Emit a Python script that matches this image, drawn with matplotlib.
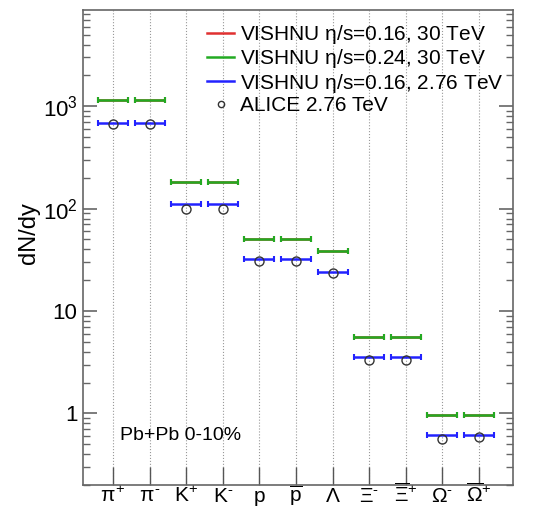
import numpy as np
import matplotlib
matplotlib.use('Agg')
import matplotlib.pyplot as plt
from matplotlib.ticker import FixedLocator, FixedFormatter, LogLocator, NullFormatter

plt.rcParams['font.family'] = ['Liberation Sans', 'DejaVu Sans']
plt.rcParams['mathtext.fontset'] = 'custom'
plt.rcParams['mathtext.rm'] = 'Liberation Sans'
plt.rcParams['mathtext.it'] = 'Liberation Sans'
plt.rcParams['mathtext.bf'] = 'Liberation Sans:bold'

particles = [r'$\pi^{+}$', r'$\pi^{\text{-}}$', r'$\mathrm{K}^{+}$', r'$\mathrm{K}^{\text{-}}$', r'$\mathrm{p}$',
             r'$\overline{\mathrm{p}}$', r'$\Lambda$', r'$\Xi^{\text{-}}$', r'$\overline{\Xi}^{+}$',
             r'$\Omega^{\text{-}}$', r'$\overline{\Omega}^{+}$']

vishnu_016_30 = [1145, 1145, 182, 182, 50.6, 50.6, 38.6, 5.6, 5.6, 0.975, 0.975]
vishnu_024_30 = [1140, 1140, 181, 181, 50.4, 50.4, 38.4, 5.58, 5.58, 0.955, 0.955]
vishnu_016_276 = [678, 678, 110, 110, 32.3, 32.3, 23.9, 3.55, 3.55, 0.62, 0.62]
alice_276 = [670, 670, 99, 99, 30.6, 30.6, 23.6, 3.29, 3.29, 0.567, 0.59]

x = np.arange(1, len(particles) + 1)

fig = plt.figure(figsize=(5.43, 5.09), dpi=100)
ax = fig.add_axes([0.1529, 0.0472, 0.7919, 0.9332])

for xi in x:
    ax.axvline(xi, color='#999999', ls=':', lw=0.8, zorder=0)

series = [(vishnu_016_30, '#e03030', r'VISHNU $\eta$/s=0.16, 30 TeV'),
          (vishnu_024_30, '#22aa22', r'VISHNU $\eta$/s=0.24, 30 TeV'),
          (vishnu_016_276, '#2222ff', r'VISHNU $\eta$/s=0.16, 2.76 TeV')]
handles = []
for vals, col, lab in series:
    ax.errorbar(x, vals, xerr=0.41, fmt='none', ecolor=col, elinewidth=1.8,
                capsize=2.5, capthick=1.5)
    h, = ax.plot([], [], color=col, lw=1.8, label=lab)
    handles.append(h)

ax.plot(x, alice_276, 'o', mfc='none', mec='#333333', mew=1.0, ms=6.5, zorder=5)
h, = ax.plot([], [], 'o', mfc='none', mec='#333333', mew=1.0, ms=4.5, label='ALICE 2.76 TeV')
handles.append(h)

ax.set_yscale('log')
ax.set_ylim(0.2, 8700)
ax.set_xlim(1 - 0.82, 11 + 0.93)

ax.yaxis.set_major_locator(FixedLocator([1, 10, 100, 1000]))
ax.yaxis.set_major_formatter(FixedFormatter(['1', '10', r'$10^{2}$', r'$10^{3}$']))
ax.yaxis.set_minor_locator(LogLocator(base=10, subs=np.arange(2, 10)))
ax.yaxis.set_minor_formatter(NullFormatter())
ax.tick_params(axis='y', which='major', direction='in', length=10, width=1.2,
               color='#666666', labelsize=16, right=True, pad=4)
ax.tick_params(axis='y', which='minor', direction='in', length=5, width=1.0,
               color='#666666', right=True)

ax.set_xticks(x)
ax.set_xticklabels(particles)
ax.tick_params(axis='x', which='major', direction='in', length=13, width=1.0,
               color='#555555', labelsize=15, pad=12.5)
ax.tick_params(axis='x', which='minor', bottom=False, top=False)
for lbl in ax.get_xticklabels():
    lbl.set_verticalalignment('baseline')

for s in ax.spines.values():
    s.set_color('#666666')
    s.set_linewidth(1.2)

ax.set_ylabel('dN/dy', fontsize=17)
ax.yaxis.set_label_coords(-0.10, 0.53)

ax.text(0.085, 0.105, 'Pb+Pb 0-10%', transform=ax.transAxes, fontsize=14, va='center')

ax.legend(handles=handles, loc='upper left', bbox_to_anchor=(0.269, 0.99), frameon=False,
          fontsize=15, handlelength=1.3, handletextpad=0.3, labelspacing=0.06,
          borderaxespad=0)

fig.savefig('out.png', dpi=100)
